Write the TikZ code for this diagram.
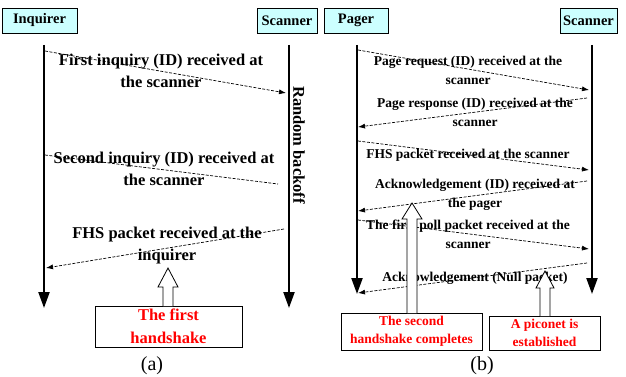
\documentclass[tikz,border=0pt]{standalone}
\usepackage{fontspec}
\setmainfont{Liberation Serif}
\usepackage{tikz}
\usetikzlibrary{positioning,arrows.meta}
\definecolor{boxcyan}{RGB}{204,255,255}
\tikzset{actor/.style={draw,fill=boxcyan,minimum height=25pt,inner sep=0pt,font=\fontsize{14.5}{15}\selectfont\bfseries},
  life/.style={line width=2.2pt,-{Triangle[length=16pt,width=11pt]}},
  msg/.style={dashed,dash pattern=on 3pt off 1.5pt,line width=0.7pt,-{Latex[length=7pt,width=5pt]}},
  msgnotip/.style={dashed,dash pattern=on 3pt off 1.5pt,line width=0.7pt},
  msgtext/.style={align=center,font=\fontsize{16.5}{22}\selectfont\bfseries},
  msgtextb/.style={align=center,font=\fontsize{13.5}{19}\selectfont\bfseries},
  note/.style={draw,fill=white,align=center,text=red,inner sep=0pt,font=\fontsize{16.5}{23}\selectfont\bfseries},
  noteb/.style={note,font=\fontsize{13.5}{17.5}\selectfont\bfseries},
  hollow/.style={draw,fill=white,line width=0.8pt}}

\begin{document}
\begin{tikzpicture}[x=1pt,y=-1pt]
    \useasboundingbox (0,0) rectangle (626,377);
    % (a) inquiry
    \node[actor,minimum width=75pt] (inq) at (39.5,20.5) {Inquirer};
    \node[actor,minimum width=60pt] (scana) at (287,20.5) {Scanner};
    \coordinate (inqtop) at (44,45);
    \coordinate (inqend) at (44,308);
    \coordinate (scatop) at (289,45);
    \coordinate (scaend) at (289,308);
    \draw[life] (inqtop) -- (inqend);
    \draw[life] (scatop) -- (scaend);
    \node[rotate=-90,font=\fontsize{16.5}{17}\selectfont\bfseries] (backoff) at (299,145) {Random backoff};

    \coordinate (a1s) at (45,51);
    \coordinate (a1e) at (286,93);
    \coordinate (a2s) at (45,155);
    \coordinate (a2e) at (278,184);
    \coordinate (a3s) at (284,229);
    \coordinate (a3e) at (46,268);
    \draw[msg] (a1s) -- (a1e);
    \draw[msgnotip] (a2s) -- (a2e);
    \draw[msg] (a3s) -- (a3e);
    \node[msgtext] (t1) at (161,71) {First inquiry (ID) received at\\the scanner};
    \node[msgtext] (t2) at (164,169) {Second inquiry (ID) received at\\the scanner};
    \node[msgtext] (t3) at (167,246) {FHS packet received at the\\inquirer};

    \node[note,minimum width=147pt,minimum height=41pt] (first) at (168.5,326.5) {The first\\handshake};
    \draw[hollow] (163,306) -- (163,287) -- (158,287) -- (168,268) -- (178,287) -- (173,287) -- (173,306);
    \node[font=\fontsize{20}{21}\selectfont] (capa) at (152,366) {(a)};

    % (b) paging
    \node[actor,minimum width=64pt] (pag) at (356,20.5) {Pager};
    \node[actor,minimum width=57pt] (scanb) at (588.5,20.5) {Scanner};
    \coordinate (pagtop) at (357,45);
    \coordinate (pagend) at (357,294);
    \coordinate (scbtop) at (592,45);
    \coordinate (scbend) at (592,294);
    \draw[life] (pagtop) -- (pagend);
    \draw[life] (scbtop) -- (scbend);

    \coordinate (b1s) at (358,50);
    \coordinate (b1e) at (589,90);
    \coordinate (b2s) at (587,98);
    \coordinate (b2e) at (358,127);
    \coordinate (b3s) at (358,141);
    \coordinate (b3e) at (589,170);
    \coordinate (b4s) at (587,181);
    \coordinate (b4e) at (358,211);
    \coordinate (b5s) at (358,220);
    \coordinate (b5e) at (589,249);
    \coordinate (b6s) at (587,263);
    \coordinate (b6e) at (358,293);
    \draw[msg] (b1s) -- (b1e);
    \draw[msg] (b2s) -- (b2e);
    \draw[msg] (b3s) -- (b3e);
    \draw[msg] (b4s) -- (b4e);
    \draw[msg] (b5s) -- (b5e);
    \draw[msg] (b6s) -- (b6e);
    \node[msgtextb] (u1) at (468,70) {Page request (ID) received at the\\scanner};
    \node[msgtextb] (u2) at (475,112) {Page response (ID) received at the\\scanner};
    \node[msgtextb] (u3) at (468,155) {FHS packet received at the scanner};
    \node[msgtextb] (u4) at (475,195) {Acknowledgement (ID) received at\\the pager};
    \node[msgtextb] (u5) at (468,234) {The first poll packet received at the\\scanner};
    \node[msgtextb] (u6) at (475,278) {Acknowledgement (Null packet)};

    \node[noteb,minimum width=141pt,minimum height=37pt] (second) at (411.5,331.5) {The second\\handshake completes};
    \node[noteb,minimum width=111pt,minimum height=34pt] (piconet) at (544.5,333) {A piconet is\\established};
    \draw[hollow] (407,313) -- (407,219) -- (402,219) -- (412,203) -- (422,219) -- (417,219) -- (417,313);
    \draw[hollow] (540,316) -- (540,288) -- (536,288) -- (545,271) -- (554,288) -- (550,288) -- (550,316);
    \node[font=\fontsize{20}{21}\selectfont] (capb) at (482,366) {(b)};
\end{tikzpicture}
\end{document}
